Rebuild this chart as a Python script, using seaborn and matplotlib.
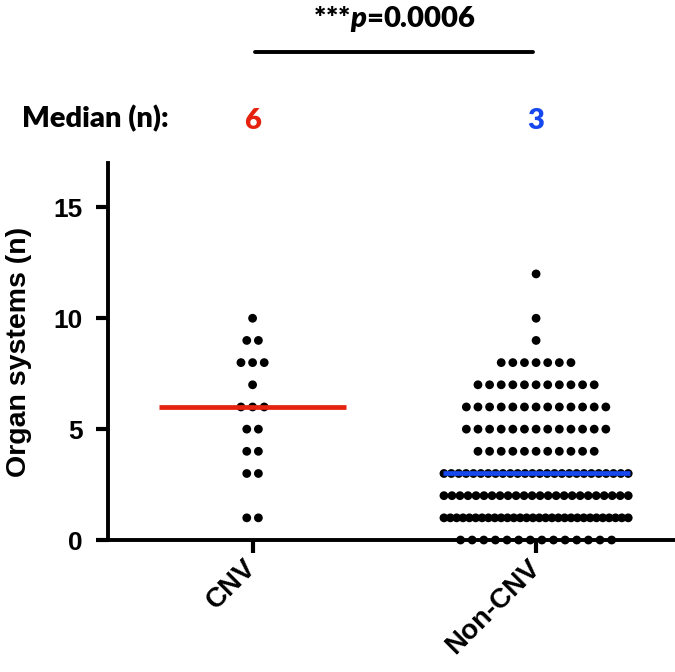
import numpy as np
import pandas as pd
import matplotlib
matplotlib.use("Agg")
import matplotlib.pyplot as plt
import seaborn as sns

# organ systems per patient as (value, number of dots)
groups = ["CNV", "Non-CNV"]
cnv_values = [1, 3, 4, 5, 6, 7, 8, 9, 10]
cnv_counts = [2, 2, 2, 2, 3, 1, 3, 2, 1]
noncnv_values = [0, 1, 2, 3, 4, 5, 6, 7, 8, 9, 10, 12]
noncnv_counts = [14, 30, 24, 26, 11, 13, 13, 11, 7, 1, 1, 1]
median_colors = ["#e5220e", "#1747ee"]
p_text = "0.0006"

HEAD = ["Lato", "DejaVu Sans"]          # header text looks like Calibri
AXF = ["Liberation Sans", "DejaVu Sans"]  # axis text looks like Arial
HS = 21
AS = 19

sns.set_style("ticks")
plt.rcParams["font.family"] = AXF
plt.rcParams["font.weight"] = "bold"
plt.rcParams["mathtext.fontset"] = "custom"
plt.rcParams["mathtext.it"] = "Lato:italic:heavy"
plt.rcParams["mathtext.rm"] = "Lato:heavy"
for k in ["text.color", "axes.labelcolor", "xtick.color", "ytick.color", "axes.edgecolor"]:
    plt.rcParams[k] = "black"

# prism-style rows: dots spread evenly, squeezed when a row gets too wide
rows = []
for gi, (vals, cnts) in enumerate([(cnv_values, cnv_counts), (noncnv_values, noncnv_counts)]):
    for v, n in zip(vals, cnts):
        step = 0.041 if n < 2 else min(0.041, 0.65 / (n - 1))
        offs = (np.arange(n) - (n - 1) / 2) * step
        for o in offs:
            rows.append({"group": groups[gi], "x": gi + o, "organs": v})
df = pd.DataFrame(rows)

fig = plt.figure(figsize=(6.75, 6.72), dpi=100)
ax = fig.add_axes([0.16, 0.1964, 0.84, 0.561])

sns.scatterplot(data=df, x="x", y="organs", color="black", s=40,
                edgecolor="none", ax=ax, clip_on=False, zorder=2)

for gi, g in enumerate(groups):
    med = np.median(df.loc[df["group"] == g, "organs"])
    ax.hlines(med, gi - 0.33, gi + 0.33, color=median_colors[gi], lw=3.4, zorder=3)
    ax.text(gi, 18.55, f"{med:g}", color=median_colors[gi], fontsize=HS,
            family=HEAD, fontweight="heavy", ha="center", va="baseline", clip_on=False)

ax.set_xlim(-0.51, 1.49)
ax.set_ylim(0, 17)
ax.set_yticks([0, 5, 10, 15])
ax.set_xticks([0, 1])
ax.set_xticklabels(groups, rotation=45, ha="right", va="center", rotation_mode="anchor")
ax.set_xlabel("")
ax.set_ylabel("Organ systems (n)", fontsize=20.5, fontweight="bold", labelpad=16)
ax.tick_params(axis="both", labelsize=AS, width=3, length=9)
ax.tick_params(axis="y", pad=9)
ax.tick_params(axis="x", pad=8, labelsize=20)
for lab in ax.get_xticklabels() + ax.get_yticklabels():
    lab.set_fontweight("bold")
sns.despine(ax=ax)
for s in ["left", "bottom"]:
    ax.spines[s].set_linewidth(2.8)
    ax.spines[s].set_zorder(4)

# significance bracket and label
ax.plot([0.01, 0.99], [22.0, 22.0], color="black", lw=2.8, clip_on=False)
ax.text(0.5, 23.13, "***$p$=" + p_text, fontsize=HS, family=HEAD, fontweight="heavy",
        ha="center", va="baseline", clip_on=False)
fig.text(22 / 675, 1 - 127 / 672, "Median (n):", fontsize=HS, family=HEAD,
         fontweight="heavy", ha="left", va="baseline")

fig.savefig("out.png", dpi=100)
